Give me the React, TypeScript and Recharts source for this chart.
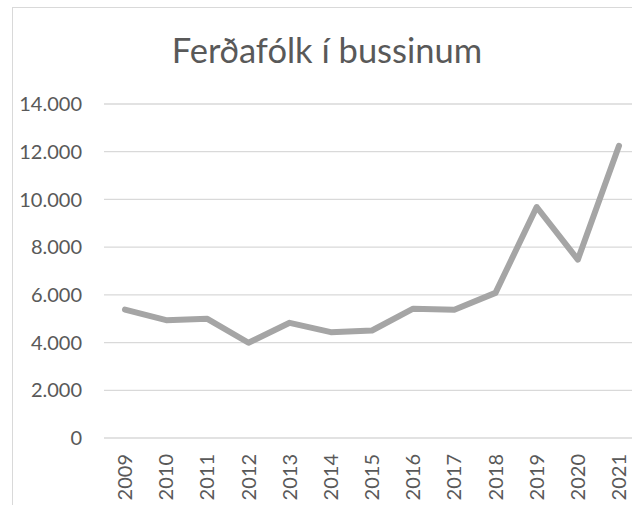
import { LineChart, Line, XAxis, YAxis, CartesianGrid } from 'recharts'

const years = ['2009', '2010', '2011', '2012', '2013', '2014', '2015', '2016', '2017', '2018', '2019', '2020', '2021']
const travellers = [5385, 4937, 4996, 3992, 4828, 4435, 4506, 5420, 5372, 6084, 9682, 7477, 12247]
const yTicks = [0, 2000, 4000, 6000, 8000, 10000, 12000, 14000]

const data = years.map((year, i) => ({ year, value: travellers[i] }))

const FONT = 'Lato, "Open Sans", sans-serif'
const TEXT = '#595959'

// íslenskur þúsundaskiljari
const formatThousands = (v: number) => String(v).replace(/\B(?=(\d{3})+(?!\d))/g, '.')

const YearTick = ({ x, y, payload }: { x?: number; y?: number; payload?: { value: string } }) => (
  <g transform={`translate(${x},${y})`}>
    <text transform="rotate(-90)" textAnchor="end" dy="0.35em" fill={TEXT} fontSize={20} fontFamily={FONT}>
      {payload?.value}
    </text>
  </g>
)

export default function App() {
  return (
    <div style={{ position: 'absolute', left: 0, top: 0, width: 632, height: 505, overflow: 'hidden', background: '#fff' }}>
      <div
        style={{
          position: 'absolute',
          left: 12,
          top: 7,
          width: 630,
          height: 520,
          border: '1px solid #D9D9D9',
        }}
      />
      <div
        style={{
          position: 'absolute',
          left: 12,
          width: 630,
          top: 29,
          lineHeight: '42px',
          textAlign: 'center',
          fontFamily: FONT,
          fontSize: 34.5,
          color: TEXT,
        }}
      >
        Ferðafólk í bussinum
      </div>
      <div style={{ position: 'absolute', left: 0, top: 0 }}>
        <LineChart width={660} height={505} data={data} margin={{ top: 104, right: 16, left: 0, bottom: 6 }}>
          <CartesianGrid vertical={false} stroke="#D9D9D9" strokeWidth={1.3} />
          <XAxis
            dataKey="year"
            axisLine={false}
            tickLine={false}
            interval={0}
            padding={{ left: 21, right: 25 }}
            height={61}
            tick={<YearTick />}
            tickSize={0}
            tickMargin={16}
          />
          <YAxis
            domain={[0, 14000]}
            ticks={yTicks}
            tickFormatter={formatThousands}
            axisLine={false}
            tickLine={false}
            tickSize={0}
            tickMargin={22}
            width={104}
            tick={{ fontSize: 20, fill: TEXT, fontFamily: FONT }}
          />
          <Line
            type="linear"
            dataKey="value"
            stroke="#A5A5A5"
            strokeWidth={6}
            strokeLinecap="round"
            strokeLinejoin="round"
            dot={false}
            isAnimationActive={false}
          />
        </LineChart>
      </div>
    </div>
  )
}
